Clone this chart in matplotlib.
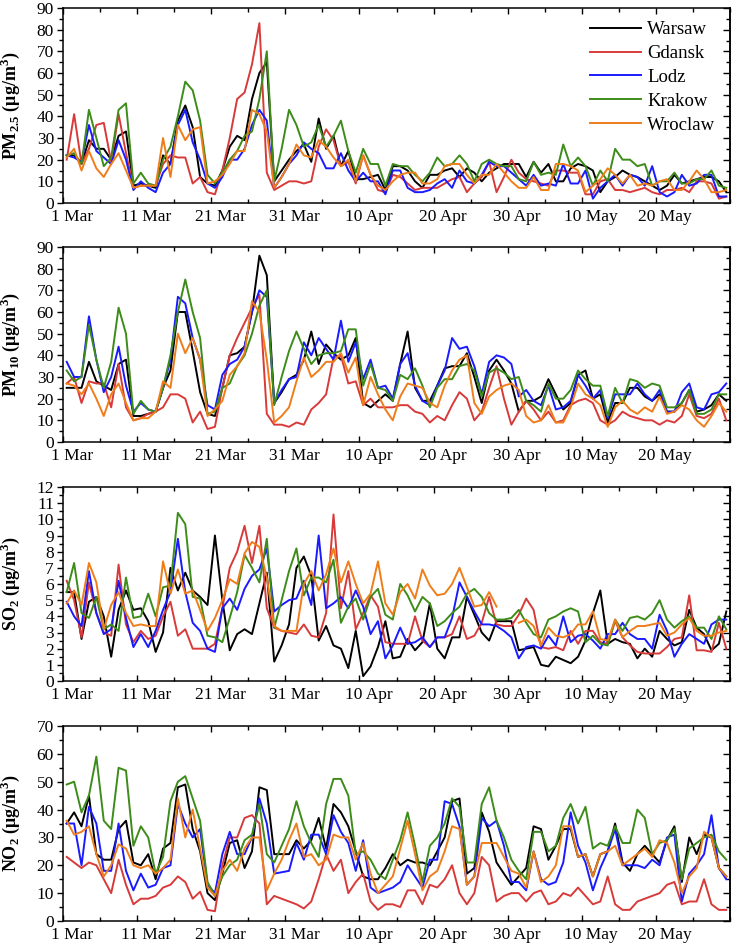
import numpy as np
import matplotlib
matplotlib.use("Agg")
import matplotlib.pyplot as plt
import matplotlib.transforms as mtransforms
from matplotlib.ticker import MultipleLocator

plt.rcParams['font.family'] = ['Liberation Serif', 'DejaVu Serif']
plt.rcParams['mathtext.fontset'] = 'custom'
plt.rcParams['mathtext.rm'] = 'Liberation Serif'
plt.rcParams['mathtext.bf'] = 'Liberation Serif:bold'

cities = ["Warsaw", "Gdansk", "Lodz", "Krakow", "Wroclaw"]
colors = ["#000000", "#d83a3a", "#1a1aff", "#3d8c19", "#ef7d1a"]
tick_labels = ["1 Mar", "11 Mar", "21 Mar", "31 Mar", "10 Apr", "20 Apr", "30 Apr", "10 May", "20 May"]
nan = np.nan

# ---------------- PM2.5 ----------------
pm25_warsaw = [22, 22, 18, 29, 25, 25, 20, 31, 33, 8, 9, 8, 7, 22, 18, 38, 45, 35, 12, 9,
               8, 15, 26, 31, 29, 48, 60, 65, 10, 15, 20, 24, 27, 19, 39, 25, 31, 17, 24, 11,
               11, 12, 13, 6, 17, 17, 15, 10, 7, 13, 13, 15, 16, 12, 16, 14, 10, 14, 16, 18,
               18, 18, 12, 19, 14, 18, 10, 10, 16, 18, 17, 15, 5, 10, 12, 15, 13, 12, 10, 8,
               6, 8, 13, 9, 10, 11, 12, 12, 10, 5]
pm25_gdansk = [20, 41, 18, 25, 36, 37, 19, 41, 23, 7, 8, 8, 8, 18, 22, 21, 21, 9, 12, 5,
               4, 15, 30, 48, 51, 64, 83, 14, 6, 8, 10, 10, 9, 10, 26, 34, 29, 17, 19, 9,
               22, 13, 6, 5, 13, 12, 9, 6, 7, 7, 7, 9, 11, 12, 5, 9, 12, 19, 5, 12,
               20, 14, 11, 10, 9, 8, 15, 15, 14, 14, 4, 4, 10, 11, 6, 6, 5, 6, 7, 5,
               4, 6, 6, 7, 5, 10, 10, 9, 2, 3]
pm25_lodz = [22, 21, 19, 36, 24, 21, 18, 29, 20, 6, 10, 7, 5, 14, 18, 36, 43, 28, 20, 9,
             7, 12, 20, 20, 25, 36, 43, 38, 7, 12, 18, 22, 28, 25, 23, 16, 16, 23, 15, 10,
             14, 10, 10, 4, 15, 15, 7, 5, 5, 6, 9, 11, 7, 15, 10, 9, 13, 19, 17, 17,
             14, 11, 8, 13, 8, 9, 8, 18, 9, 9, 15, 2, 7, 10, 13, 8, 13, 12, 8, 17,
             5, 3, 5, 13, 8, 9, 13, 13, 3, 3]
pm25_krakow = [22, 23, 18, 43, 30, 17, 21, 43, 46, 9, 14, 9, 8, 20, 26, 40, 56, 52, 38, 13,
               9, 14, 20, 24, 31, 33, 48, 70, 10, 25, 43, 36, 26, 28, 36, 26, 31, 38, 24, 14,
               25, 18, 18, 8, 18, 17, 17, 13, 10, 14, 21, 17, 18, 22, 18, 10, 18, 20, 18, 17,
               17, 11, 10, 19, 13, 14, 13, 27, 17, 21, 17, 8, 15, 10, 25, 20, 20, 17, 18, 8,
               10, 10, 14, 9, 9, 11, 11, 15, 8, 7]
pm25_wroclaw = [21, 25, 15, 24, 16, 12, 18, 23, 15, 7, 8, 8, 8, 30, 12, 36, 29, 34, 35, 9,
                10, 13, 18, 24, 24, 43, 41, 33, 7, 12, 18, 27, 22, 21, 29, 26, 21, 17, 20, 10,
                22, 13, 8, 6, 10, 13, 14, 14, 9, 9, 11, 17, 18, 18, 13, 9, 13, 13, 18, 14,
                10, 7, 7, 12, 6, 6, 18, 18, 17, 15, 5, 8, 11, 16, 13, 9, 13, 8, 9, 8,
                10, 11, 6, 6, 10, 15, 11, 5, 5, 6]

# ---------------- PM10 ----------------
pm10_warsaw = [25, 25, 25, 37, 28, 26, 24, 36, 38, 12, 12, 13, 14, 25, 33, 60, 60, 42, 23, 13,
               12, 25, 40, 41, 44, 60, 86, 77, 18, 23, 29, 31, 38, 51, 36, 45, 41, 38, 40, 48,
               18, 16, 19, 22, 19, 36, 51, 25, 19, 19, 26, 34, 35, 35, 41, 30, 18, 33, 38, 33,
               27, 14, 19, 19, 21, 29, 22, 15, 18, 31, 33, 20, 22, 9, 18, 18, 25, 25, 21, 19,
               22, 14, 14, 18, 24, 14, 15, 17, 22, 19]
pm10_gdansk = [27, 30, 18, 28, 27, 27, 16, 36, 16, 10, 11, 13, 14, 16, 22, 22, 20, 9, 14, 6,
               7, 25, 40, 48, 55, 62, 68, 13, 8, 8, 7, 9, 8, 15, 18, 22, 39, 40, 27, 28,
               17, 20, 16, 16, 16, 17, 17, 14, 13, 9, 12, 10, 17, 23, 20, 10, 14, 25, 35, 20,
               8, 14, 19, 15, 10, 14, 9, 10, 17, 19, 20, 18, 10, 8, 10, 14, 12, 11, 10, 10,
               8, 10, 9, 12, 22, 12, 11, 13, 20, 10]
pm10_lodz = [37, 30, 30, 58, 38, 23, 30, 44, 26, 14, 18, 15, 14, 25, 38, 67, 64, 48, 38, 17,
             15, 31, 36, 38, 44, 60, 70, 67, 18, 24, 29, 30, 46, 40, 48, 43, 38, 56, 37, 46,
             29, 38, 25, 26, 20, 36, 41, 26, 19, 17, 26, 33, 48, 43, 44, 35, 22, 37, 40, 39,
             36, 21, 24, 19, 17, 26, 15, 16, 19, 31, 26, 20, 24, 11, 22, 22, 22, 27, 22, 19,
             24, 14, 14, 23, 27, 16, 15, 22, 23, 27]
pm10_krakow = [33, 28, 30, 54, 38, 25, 37, 62, 50, 13, 19, 15, 14, 25, 40, 60, 75, 60, 48, 13,
               14, 25, 27, 35, 40, 50, 63, 70, 17, 30, 42, 51, 43, 36, 40, 41, 41, 42, 52, 52,
               26, 36, 25, 24, 19, 31, 29, 34, 26, 16, 25, 29, 29, 35, 36, 33, 21, 32, 34, 32,
               29, 30, 19, 17, 14, 27, 20, 20, 24, 33, 29, 26, 26, 12, 25, 18, 29, 28, 25, 27,
               26, 16, 16, 18, 24, 13, 13, 15, 22, 22]
pm10_wroclaw = [27, 26, 22, 27, 20, 12, 22, 27, 18, 10, 11, 11, 14, 28, 25, 50, 41, 48, 38, 12,
                15, 19, 31, 35, 41, 65, 60, 38, 9, 12, 16, 28, 39, 30, 33, 37, 37, 41, 32, 39,
                17, 30, 22, 15, 10, 21, 27, 26, 25, 18, 16, 26, 33, 38, 40, 18, 13, 21, 24, 26,
                27, 24, 12, 9, 10, 17, 9, 9, 16, 27, 22, 20, 17, 7, 16, 19, 15, 13, 16, 14,
                21, 13, 14, 17, 15, 10, 7, 12, 18, 14]

# ---------------- SO2 ----------------
so2_warsaw = [5.5, 5.5, 2.6, 4.9, 5.2, 4.0, 1.5, 4.4, 5.6, 4.4, 4.5, 3.7, 1.8, 3.0, 7.0, 5.6, 6.7, 5.6, 5.2, 4.7,
              9.0, 5.0, 1.9, 2.9, 3.2, 2.9, 4.8, 6.7, 1.2, 2.2, 3.5, 7.0, 7.7, 6.5, 2.5, 3.4, 2.2, 2.0, 0.8, 3.1,
              0.3, 0.9, 2.1, 3.7, 1.4, 1.5, 2.6, 1.9, 2.4, 4.8, 2.0, 1.4, 2.7, 2.7, 5.2, 4.1, 3.0, 2.5, 3.7, 3.7,
              3.7, 1.9, 2.0, 2.1, 1.0, 0.9, 1.5, 1.3, 1.1, 1.5, 2.5, 4.2, 5.6, 2.3, 2.6, 2.4, 2.3, 1.4, 2.0, 1.5,
              3.1, 2.6, 2.2, 2.4, 4.4, 3.3, 2.9, 1.9, 2.3, 4.3]
so2_gdansk = [6.2, 5.0, 2.7, 6.1, 4.2, 3.0, 2.8, 7.2, 3.5, 2.4, 3.1, 2.6, 2.8, 4.0, 4.9, 2.8, 3.2, 2.0, 2.0, 2.0,
              2.3, 4.5, 7.0, 8.0, 9.6, 7.3, 9.6, 4.5, 3.3, 3.1, 3.0, 2.9, 3.5, 2.8, 2.7, 4.2, 10.3, 4.5, 6.8, 3.2,
              4.2, 5.3, 4.6, 2.4, 2.3, 2.3, 2.3, 4.0, 2.5, 2.1, 2.7, 2.7, 2.9, 4.0, 2.6, 2.8, 3.6, 5.2, 3.5, 3.4,
              3.4, 4.1, 5.1, 4.4, 2.1, 2.0, 2.1, 1.9, 3.1, 2.3, 3.1, 3.1, 2.4, 2.3, 3.7, 2.7, 2.2, 1.8, 1.7, 1.7,
              1.7, 2.1, 2.6, 2.7, 5.3, 1.9, 1.9, 1.8, 3.6, 2.0]
so2_lodz = [4.9, 4.0, 3.4, 6.8, 4.2, 2.9, 3.2, 6.2, 3.9, 2.1, 2.9, 2.1, 3.1, 4.4, 5.5, 8.8, 5.5, 3.6, 3.1, 2.0,
            1.8, 4.5, 5.1, 4.4, 5.7, 6.5, 6.9, 8.2, 4.3, 4.7, 5.0, 5.1, 6.2, 4.7, 9.0, 4.5, 4.8, 5.2, 4.5, 5.6,
            4.6, 2.9, 3.7, 1.4, 2.2, 3.3, 2.3, 2.4, 2.7, 2.1, 2.7, 2.7, 3.9, 6.1, 5.2, 4.3, 3.5, 3.5, 3.4, 3.1,
            2.7, 1.4, 2.1, 2.2, 2.0, 2.8, 2.2, 4.0, 2.4, 2.8, 2.9, 2.5, 2.0, 2.9, 2.9, 3.6, 2.9, 2.6, 2.6, 2.0,
            4.1, 3.1, 1.5, 2.3, 2.9, 2.6, 2.3, 3.5, 3.8, 3.8]
so2_krakow = [5.5, 7.3, 4.2, 3.9, 5.2, 3.2, 3.5, 3.1, 6.4, 3.9, 4.0, 5.4, 4.0, 5.8, 5.9, 10.4, 9.7, 5.2, 5.1, 2.8,
              2.7, 2.4, 3.9, 5.5, 7.8, 7.0, 6.1, 8.8, 3.3, 5.0, 6.8, 8.2, 5.3, 6.4, 6.4, 6.1, 7.5, 3.6, 4.6, 5.1,
              3.8, 5.2, 5.7, 4.1, 3.8, 6.0, 5.3, 4.3, 5.2, 4.8, 3.4, 3.7, 4.2, 4.6, 5.4, 5.7, 5.2, 4.2, 3.8, 3.8,
              3.9, 4.4, 3.6, 2.9, 2.7, 3.8, 4.0, 4.3, 4.5, 4.3, 2.4, 2.8, 2.3, 2.2, 3.8, 3.1, 3.9, 4.0, 3.8, 4.2,
              5.0, 3.8, 3.3, 3.7, 4.0, 3.3, 3.3, 2.6, 4.0, 3.2]
so2_wroclaw = [4.8, 5.6, 4.7, 7.3, 6.1, 3.2, 4.7, 5.5, 4.2, 3.4, 3.5, 3.4, 3.4, 7.4, 5.4, 6.9, 5.4, 5.6, 4.4, 3.1,
               3.9, 5.0, 6.3, 6.0, 7.9, 8.6, 8.3, 6.4, 3.4, 3.1, 3.1, 3.1, 6.0, 6.8, 5.6, 6.6, 8.2, 6.1, 7.4, 6.0,
               4.8, 5.4, 7.4, 4.8, 4.1, 5.5, 6.0, 5.1, 6.9, 5.9, 5.3, 5.4, 6.0, 7.0, 5.8, 4.6, 4.7, 5.5, 4.6, nan,
               nan, 3.6, 3.8, 3.4, 2.2, 3.3, 2.8, 2.7, 2.9, 3.5, 3.5, 4.3, 2.6, 2.5, 3.8, 2.7, 3.1, 3.4, 3.4, 3.5,
               3.6, 2.8, 3.0, 3.5, 3.9, 3.1, 2.8, 2.8, 3.0, 3.1]

# ---------------- NO2 ----------------
no2_warsaw = [35, 39, 34, 45, 24, 22, 22, 33, 36, 21, 20, 24, 15, 26, 28, 48, 49, 33, 25, 10,
              7.5, 17, 28, 29, 19, 25, 48, 47, 24, 24, 24, 29, 26, 29, 37, 26, 42, 39, 34, 25,
              16, 15, 15, 19, 24, 20, 22, 21, 21, 20, 25, 30, 43, 44, 17, 19, 39, 32, 21, 17,
              13, 16, 19, 34, 33, 22, 27, 33, 33, 23, 24, 16, 24, 25, 35, 21, 18, 24, 27, 24,
              21, 29, 34, 14, 30, 24, 31, 30, 19, 16]
no2_gdansk = [23, 21, 19, 21, 20, 15, 10, 22, 13, 6, 8, 8, 9, 12, 13, 16, 14, 8, 10.5, 4,
              3.5, 20, 30, 30, 37, 38, 35, 6, 9, 8, 7, 6, 4.5, 7, 15, 24, 18, 22, 10, 14,
              17, 7, 4, 6, 6, 5, 11, 11, 6, 13, 12, 15, 20, 10, 6, 10, 23, 20, 7, 9,
              10, 10, 7, 10, 11, 6, 7, 10, 9, 12, 9, 6, 7, 16, 6, 4, 4, 7, 8, 9,
              10, 13, 14, 6, 7, 7, 15, 6, 4, 4]
no2_lodz = [35, 35, 20, 41, 35, 18, 18, 35, 18, 11, 17, 12, 13, 19, 20, 42, 35, 30, 33, 13,
            10, 24, 32, 24, 24, 30, 44, 35, 17, 17.5, 18, 28, 22, 31, 31, 24, 38, 32, 28, 18,
            29, 12, 10, 11, 12, 14, 20, 16, 12, 22, 22, 43, 42, 34, 13, 16, 37, 34, 36, 27,
            14, 14, 11, 25, 15, 13, 14, 21, 39, 27, 21, 11, 19, 25, 33, 20, 20, 20, 19, 22,
            20, 30, 31, 7, 17, 20, 24, 38, 19, 15]
no2_krakow = [49, 50, 39, 45, 59, 36, 33, 55, 54, 27, 34, 30, 17, 23, 43, 50, 52, 44, 36, 14,
              9, 16, 20, 22, 29, 31, 42, 24, 21, 27, 33, 43, 34, 28, 23, 42, 51, 51, 45, 24,
              25, 22, 17, 15, 22, 29, 39, 27, 14, 27, 30, 35, 44, 41, 21, 21, 42, 48, 36, 30,
              22, 18, 15, 32, 32, 25, 27, 37, 42, 35, 41, 26, 28, 27, 34, 28, 28, 40, 37, 24,
              28, 29, 33, 15, 26, 28, 30, 31, 25, 22]
no2_wroclaw = [36, 31, 32, 34, 24, 16, 20, 27.5, 26, 20, 19, 20, 17, 19, 22, 44, 30, 40, 26, 12,
               9, 18, 22, 18, 26, 30, 30, 11, 17, 22, 29, 35, 23, 24, 20, 22, 31, 30, 30, 22,
               28, 17, 10, 13, 16, 26, 36, 24, 11, 16, 18, 25, 34, 33, 13, 16, 28, 28, 28, 23,
               18, 17, 12, 25, 14, 16, 20, 34, 34, 23, 24, 16, 24, 25, 27, 20, 22, 24, 26, 23,
               29, 28, 21, 10, 16, 19, 32, 30, 19, 16]

panels = [
    ([pm25_warsaw, pm25_gdansk, pm25_lodz, pm25_krakow, pm25_wroclaw],
     r'PM$_{\mathbf{2.5}}$ (μg/m$^{\mathbf{3}}$)', 90, 10, 5),
    ([pm10_warsaw, pm10_gdansk, pm10_lodz, pm10_krakow, pm10_wroclaw],
     r'PM$_{\mathbf{10}}$ (μg/m$^{\mathbf{3}}$)', 90, 10, 5),
    ([so2_warsaw, so2_gdansk, so2_lodz, so2_krakow, so2_wroclaw],
     r'SO$_{\mathbf{2}}$ (μg/m$^{\mathbf{3}}$)', 12, 1, 0.5),
    ([no2_warsaw, no2_gdansk, no2_lodz, no2_krakow, no2_wroclaw],
     r'NO$_{\mathbf{2}}$ (μg/m$^{\mathbf{3}}$)', 70, 10, 5),
]

W, H = 733, 948
fig = plt.figure(figsize=(W / 100, H / 100), dpi=100)
tops = [8, 247, 487, 726]
bots = [203, 442, 681, 921]
left_px, right_px = 63, 730
label_shift = mtransforms.ScaledTranslation(9 / 100, -6 / 100, fig.dpi_scale_trans)

for i, (series, ylabel, ymax, major, minor) in enumerate(panels):
    ax = fig.add_axes([left_px / W, 1 - bots[i] / H, (right_px - left_px) / W, (bots[i] - tops[i]) / H])
    for name, col, vals in zip(cities, colors, series):
        vals = np.array(vals, dtype=float)
        x = np.arange(len(vals)) + 0.5
        ax.plot(x, vals, color=col, lw=1.4, label=name)
    ax.set_xlim(0, 90)
    ax.set_ylim(0, ymax)
    ax.xaxis.set_minor_locator(MultipleLocator(5))
    ax.yaxis.set_major_locator(MultipleLocator(major))
    ax.yaxis.set_minor_locator(MultipleLocator(minor))
    ax.tick_params(axis='x', which='both', direction='in', top=True, bottom=True, labelsize=12.5, pad=4)
    ax.tick_params(axis='y', which='both', direction='out', left=True, labelsize=12.5, pad=2)
    ax.tick_params(which='major', length=4.5, width=1.0)
    ax.tick_params(which='minor', length=2.8, width=1.0)
    for sp in ax.spines.values():
        sp.set_linewidth(1.1)
    ax.set_ylabel(ylabel, fontsize=13, fontweight='bold')
    ax.yaxis.set_label_coords(-0.0615, 0.5)
    axr = ax.secondary_yaxis('right')
    axr.yaxis.set_major_locator(MultipleLocator(major))
    axr.yaxis.set_minor_locator(MultipleLocator(minor))
    axr.tick_params(which='both', direction='in', labelright=False)
    axr.tick_params(which='major', length=5, width=1.0)
    axr.tick_params(which='minor', length=2.8, width=1.0)
    axr.spines['right'].set_linewidth(1.1)
    # date tick labels (drawn slightly right of the tick, as in the original)
    ticks = np.arange(0, 90, 10)
    ax.set_xticks(ticks)
    ax.set_xticklabels([])
    for t, lab in zip(ticks, tick_labels):
        ax.text(t, 0, lab, transform=ax.get_xaxis_transform() + label_shift,
                ha='center', va='top', fontsize=12.5)
    if i == 0:
        ax.legend(loc='upper right', frameon=False, fontsize=13.5, handlelength=2.7,
                  handletextpad=0.35, labelspacing=0.36, borderaxespad=0.3,
                  bbox_to_anchor=(0.998, 1.0))

fig.savefig("out.png", dpi=100)
